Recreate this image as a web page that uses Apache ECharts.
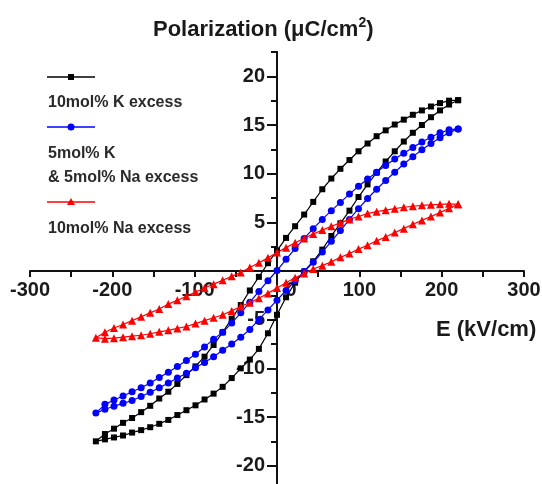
<!DOCTYPE html>
<html>
<head>
<meta charset="utf-8">
<script src="https://cdn.jsdelivr.net/npm/echarts@6/dist/echarts.min.js"></script>
<style>
html,body{margin:0;padding:0;background:#fff;}
#c{width:542px;height:484px;}
</style>
</head>
<body>
<div id="c"></div>
<script>
// Electric field values (kV/cm), shared by both branches of every loop
const E = [-220,-209,-198,-187,-176,-165,-154,-143,-132,-121,-110,-99,-88,-77,-66,-55,-44,-33,-22,-11,0,11,22,33,44,55,66,77,88,99,110,121,132,143,154,165,176,187,198,209,220];

// 10mol% K excess (black) - descending (upper) and ascending (lower) branches
const kUpper = [-17.5,-16.75,-16.2,-15.6,-15.1,-14.5,-13.85,-13.1,-12.4,-11.6,-10.7,-9.8,-8.8,-7.6,-6.3,-4.9,-3.5,-2.0,-0.6,0.8,2.1,3.4,4.6,5.8,7.1,8.4,9.5,10.5,11.4,12.3,13.1,13.85,14.45,15.05,15.55,16.05,16.5,16.9,17.25,17.5,17.55];
const kLower = [-17.5,-17.3,-17.1,-16.9,-16.6,-16.35,-16.05,-15.7,-15.3,-14.8,-14.3,-13.8,-13.2,-12.6,-11.9,-11.0,-10.0,-9.1,-8.0,-6.4,-4.5,-2.7,-1.2,-0.05,1.0,2.2,3.6,4.9,6.2,7.6,8.9,10.1,11.25,12.3,13.3,14.2,15.0,15.8,16.5,17.1,17.55];

// 5mol% K & 5mol% Na excess (blue)
const kNaUpper = [-14.6,-13.7,-13.25,-12.85,-12.4,-12.0,-11.5,-10.95,-10.4,-9.8,-9.2,-8.55,-7.8,-7.0,-6.3,-5.35,-4.3,-3.2,-2.1,-1.0,0.05,1.2,2.3,3.35,4.35,5.3,6.2,7.05,7.9,8.7,9.45,10.15,10.85,11.5,12.1,12.7,13.25,13.75,14.2,14.5,14.6];
const kNaLower = [-14.6,-14.2,-13.9,-13.6,-13.3,-12.9,-12.45,-12.0,-11.5,-11.0,-10.5,-9.95,-9.4,-8.8,-8.15,-7.5,-6.8,-6.0,-5.0,-4.0,-3.0,-2.0,-1.0,-0.05,0.9,1.95,3.05,4.15,5.3,6.4,7.45,8.4,9.3,10.15,11.0,11.75,12.45,13.1,13.7,14.2,14.6];

// 10mol% Na excess (red)
const naUpper = [-6.85,-6.3,-5.85,-5.5,-5.1,-4.7,-4.3,-3.9,-3.4,-3.0,-2.6,-2.15,-1.75,-1.35,-0.95,-0.55,-0.15,0.35,0.85,1.35,1.9,2.4,2.9,3.35,3.8,4.2,4.6,4.95,5.3,5.6,5.9,6.1,6.25,6.4,6.55,6.65,6.75,6.8,6.85,6.9,6.85];
const naLower = [-6.85,-6.95,-6.9,-6.8,-6.7,-6.6,-6.45,-6.25,-6.1,-5.9,-5.7,-5.4,-5.1,-4.8,-4.5,-4.1,-3.65,-3.25,-2.8,-2.3,-1.75,-1.2,-0.7,-0.25,0.2,0.55,0.95,1.4,1.8,2.25,2.65,3.1,3.5,3.95,4.35,4.8,5.2,5.6,6.0,6.45,6.85];

// Axis tick labels
const xTicks = [-300,-200,-100,0,100,200,300];
const yLabels = [-20,-15,-10,-5,5,10,15,20];
const yMajorTicks = [-20,-15,-10,-5,0,5,10,15,20];
const yMinorTicks = [-22.5,-17.5,-12.5,-7.5,-2.5,2.5,7.5,12.5,17.5,22.5];

const seriesNames = ['10mol% K excess','5mol% K & 5mol% Na excess','10mol% Na excess'];

function loop(upper, lower) {
  const d = [];
  for (let i = E.length - 1; i >= 0; i--) d.push([E[i], upper[i]]);
  for (let i = 1; i < E.length; i++) d.push([E[i], lower[i]]);
  return d;
}

const FONT = 'Liberation Sans, Arial, sans-serif';
const INK = '#1a1a1a';
const chart = echarts.init(document.getElementById('c'), null, {renderer: 'canvas'});

const legendText = (txt, y) => ({
  type: 'text', x: 48, y: y,
  style: {text: txt, font: 'bold 16px ' + FONT, fill: '#2a2a2a', verticalAlign: 'middle'}
});
const legendLine = (color, y) => ({
  type: 'line', shape: {x1: 47, y1: y, x2: 95, y2: y},
  style: {stroke: color, lineWidth: 1.5}
});
const axLine = {lineStyle: {color: '#111', width: 2}};

chart.setOption({
  animation: false,
  backgroundColor: '#fff',
  title: {
    text: '{a|Polarization (μC/cm}{s|2}{a|)}',
    left: 148, top: 11,
    textStyle: {
      rich: {
        a: {fontFamily: FONT, fontSize: 22, fontWeight: 'bold', color: INK, lineHeight: 27},
        s: {fontFamily: FONT, fontSize: 14, fontWeight: 'bold', color: INK, verticalAlign: 'top', lineHeight: 15}
      }
    }
  },
  grid: [
    // data area
    {left: 30, width: 494, top: 52, height: 438, outerBoundsMode: 'none', containLabel: false},
    // horizontal (E) axis drawn along P = 0
    {left: 30, width: 494, top: 52, height: 219, outerBoundsMode: 'none', containLabel: false},
    // vertical (P) axis drawn along E = 0
    {left: 277, width: 100, top: 52, height: 438, outerBoundsMode: 'none', containLabel: false}
  ],
  xAxis: [{
    gridIndex: 0, type: 'value', min: -300, max: 300, show: false
  }, {
    gridIndex: 1, type: 'value', min: -300, max: 300, interval: 100, position: 'bottom',
    axisLine: Object.assign({onZero: false}, axLine),
    axisTick: {show: true, length: 6, inside: false, lineStyle: {color: '#111', width: 2}},
    minorTick: {show: true, splitNumber: 2, length: 6, lineStyle: {color: '#111', width: 2}},
    splitLine: {show: false},
    axisLabel: {
      margin: 9, fontFamily: FONT, fontSize: 20, fontWeight: 'bold', color: INK,
      customValues: xTicks,
      formatter: v => v === 0 ? '{z|0}' : String(v),
      rich: {z: {fontFamily: FONT, fontSize: 20, fontWeight: 'bold', color: INK, padding: [0, 0, 0, 28]}}
    }
  }, {
    gridIndex: 2, type: 'value', min: 0, max: 1, show: false
  }],
  yAxis: [{
    gridIndex: 0, type: 'value', min: -22.5, max: 22.5, show: false
  }, {
    gridIndex: 1, type: 'value', min: 0, max: 1, show: false
  }, {
    gridIndex: 2, type: 'value', min: -22.5, max: 22.5, position: 'left',
    axisLine: Object.assign({show: true, onZero: false}, axLine),
    axisTick: {show: true, length: 10, inside: false, customValues: yMajorTicks, lineStyle: {color: '#111', width: 2}},
    splitLine: {show: false},
    axisLabel: {margin: 12, fontFamily: FONT, fontSize: 20, fontWeight: 'bold', color: INK, customValues: yLabels}
  }, {
    gridIndex: 2, type: 'value', min: -22.5, max: 22.5, position: 'left',
    axisLine: Object.assign({show: true, onZero: false}, axLine),
    axisTick: {show: true, length: 6, inside: false, customValues: yMinorTicks, lineStyle: {color: '#111', width: 2}},
    splitLine: {show: false},
    axisLabel: {show: false}
  }],
  series: [{
    name: seriesNames[0], type: 'line', xAxisIndex: 0, yAxisIndex: 0, data: loop(kUpper, kLower),
    symbol: 'rect', symbolSize: 6, showAllSymbol: true,
    lineStyle: {color: '#000', width: 1.2}, itemStyle: {color: '#000'}, z: 3
  }, {
    name: seriesNames[1], type: 'line', xAxisIndex: 0, yAxisIndex: 0, data: loop(kNaUpper, kNaLower),
    symbol: 'circle', symbolSize: 7, showAllSymbol: true,
    lineStyle: {color: '#0000ff', width: 1.2}, itemStyle: {color: '#0000ff'}, z: 4
  }, {
    name: seriesNames[2], type: 'line', xAxisIndex: 0, yAxisIndex: 0, data: loop(naUpper, naLower),
    symbol: 'triangle', symbolSize: 8, showAllSymbol: true,
    lineStyle: {color: '#ff0000', width: 1.2}, itemStyle: {color: '#ff0000'}, z: 5
  }],
  graphic: [
    legendLine('#000', 77),
    {type: 'rect', shape: {x: 68, y: 74, width: 6, height: 6}, style: {fill: '#000'}},
    legendText('10mol% K excess', 103),
    legendLine('#0000ff', 127),
    {type: 'circle', shape: {cx: 71, cy: 127, r: 3.5}, style: {fill: '#0000ff'}},
    legendText('5mol% K', 154),
    legendText('& 5mol% Na excess', 178),
    legendLine('#ff0000', 202),
    {type: 'polygon', shape: {points: [[71, 198], [75, 205], [67, 205]]}, style: {fill: '#ff0000'}},
    legendText('10mol% Na excess', 229),
    {type: 'text', x: 436, y: 330,
     style: {text: 'E (kV/cm)', font: 'bold 22px ' + FONT, fill: INK, verticalAlign: 'middle'}}
  ]
});
</script>
</body>
</html>
